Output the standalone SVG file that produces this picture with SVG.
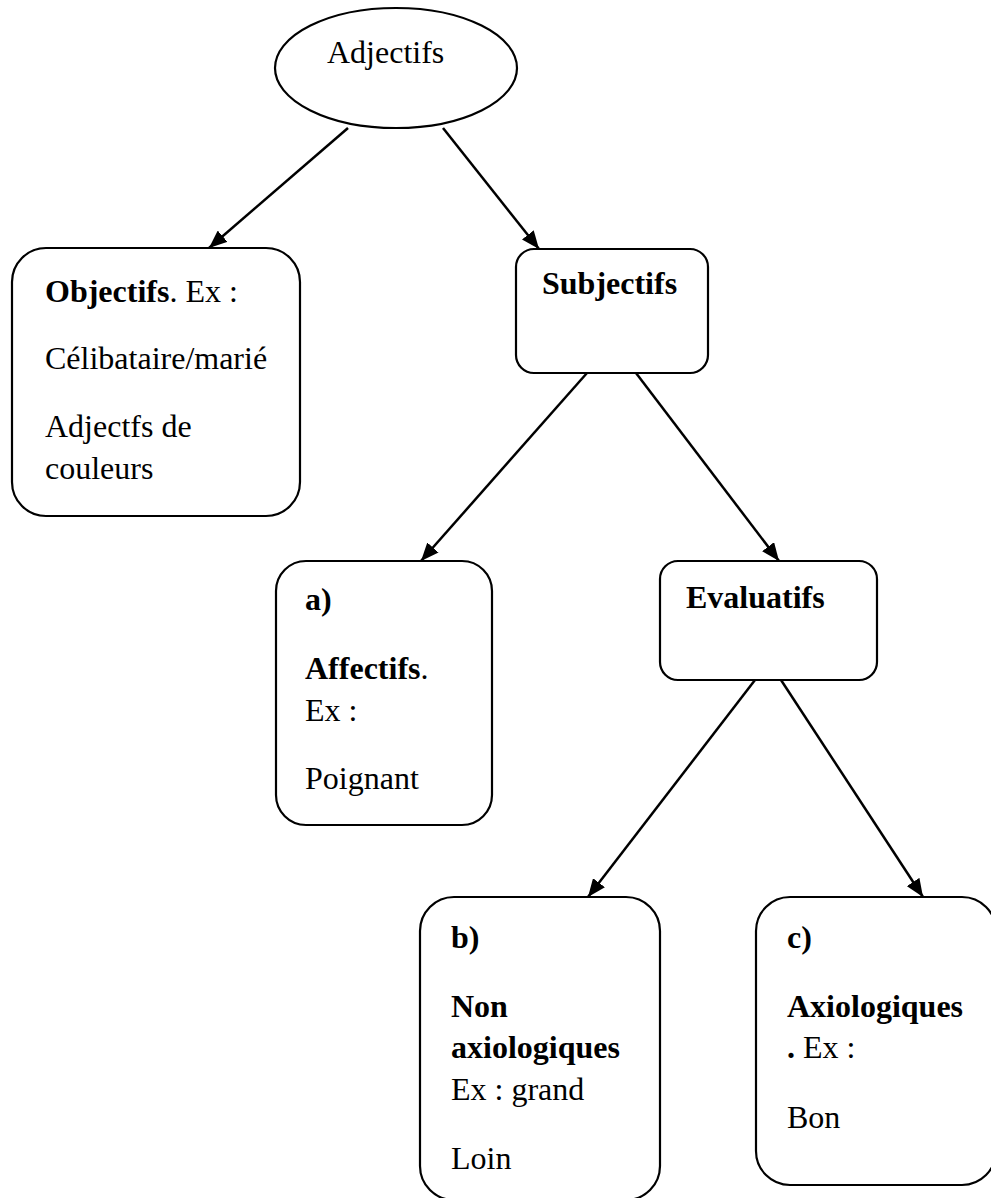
<svg xmlns="http://www.w3.org/2000/svg" width="991" height="1198" viewBox="0 0 991 1198">
<style>
text{font-family:"Liberation Serif","Times New Roman",serif;font-size:32px;fill:#000}
.b{font-weight:bold}
.node{fill:#fff;stroke:#000;stroke-width:2.2}
.edge{stroke:#000;stroke-width:2.5;fill:none;marker-end:url(#arr)}
</style>
<defs>
<marker id="arr" viewBox="0 0 18 15" refX="18" refY="7.5" markerWidth="18" markerHeight="15" markerUnits="userSpaceOnUse" orient="auto">
<path d="M0,0 L18,7.5 L0,15 z" fill="#000"/>
</marker>
</defs>
<rect width="991" height="1198" fill="#fff"/>
<g id="connectors">
<line class="edge" x1="348" y1="128" x2="209" y2="248"/>
<line class="edge" x1="443" y1="128" x2="539" y2="249"/>
<line class="edge" x1="587" y1="373" x2="421" y2="561"/>
<line class="edge" x1="636" y1="373" x2="779" y2="561"/>
<line class="edge" x1="755" y1="680" x2="588" y2="897"/>
<line class="edge" x1="781" y1="680" x2="923" y2="897"/>
</g>
<g id="adjectifs">
<ellipse class="node" cx="396" cy="68" rx="121" ry="60"/>
<text x="327" y="63">Adjectifs</text>
</g>
<g id="objectifs">
<rect class="node" x="12" y="248" width="288" height="268" rx="34"/>
<text x="45" y="302"><tspan class="b">Objectifs</tspan>. Ex :</text>
<text x="45" y="369">Célibataire/marié</text>
<text x="45" y="437">Adjectfs de</text>
<text x="45" y="479">couleurs</text>
</g>
<g id="subjectifs">
<rect class="node" x="516" y="249" width="192" height="124" rx="18"/>
<text class="b" x="542" y="294">Subjectifs</text>
</g>
<g id="affectifs">
<rect class="node" x="276" y="561" width="216" height="264" rx="30"/>
<text class="b" x="305" y="610">a)</text>
<text x="305" y="679"><tspan class="b">Affectifs</tspan>.</text>
<text x="305" y="721">Ex :</text>
<text x="305" y="789">Poignant</text>
</g>
<g id="evaluatifs">
<rect class="node" x="660" y="561" width="217" height="119" rx="18"/>
<text class="b" x="686" y="608">Evaluatifs</text>
</g>
<g id="non-axiologiques">
<rect class="node" x="420" y="897" width="240" height="303" rx="34"/>
<text class="b" x="451" y="948">b)</text>
<text class="b" x="451" y="1017">Non</text>
<text class="b" x="451" y="1058">axiologiques</text>
<text x="451" y="1100">Ex : grand</text>
<text x="451" y="1169">Loin</text>
</g>
<g id="axiologiques">
<rect class="node" x="756" y="897" width="240" height="288" rx="34"/>
<text class="b" x="787" y="948">c)</text>
<text class="b" x="787" y="1017">Axiologiques</text>
<text x="787" y="1058"><tspan class="b">.</tspan> Ex :</text>
<text x="787" y="1128">Bon</text>
</g>
</svg>
